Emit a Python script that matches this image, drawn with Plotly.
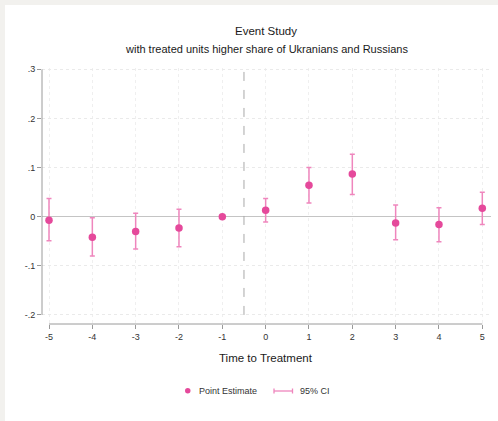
import plotly.graph_objects as go

# Event-study coefficients by period relative to treatment
periods = [-5, -4, -3, -2, -1, 0, 1, 2, 3, 4, 5]
estimate = [-0.007, -0.042, -0.030, -0.023, 0.0, 0.013, 0.064, 0.087, -0.013, -0.016, 0.017]
ci_low = [-0.049, -0.080, -0.066, -0.061, None, -0.011, 0.028, 0.045, -0.047, -0.051, -0.016]
ci_high = [0.037, -0.002, 0.007, 0.015, None, 0.037, 0.100, 0.127, 0.024, 0.018, 0.050]

x_ticks = [-5, -4, -3, -2, -1, 0, 1, 2, 3, 4, 5]
x_tick_labels = ["-5", "-4", "-3", "-2", "-1", "0", "1", "2", "3", "4", "5"]
y_ticks = [0.3, 0.2, 0.1, 0.0, -0.1, -0.2]
y_tick_labels = [".3", ".2", ".1", "0", "-.1", "-.2"]

PT_COLOR = "#e5499b"
CI_COLOR = "#ef86bd"
FONT = "Liberation Sans, Arial, sans-serif"

W, H = 498, 421
ML, MR, MT, MB = 42, 7, 68, 97
PW, PH = W - ML - MR, H - MT - MB


def px(xp):
    return (xp - ML) / PW


def py(yp):
    return (H - MB - yp) / PH


# split reference period (no interval) from estimated periods
ci_x, ci_y, err_up, err_dn = [], [], [], []
ref_x, ref_y = [], []
for p, e, lo, hi in zip(periods, estimate, ci_low, ci_high):
    if lo is None:
        ref_x.append(p)
        ref_y.append(e)
    else:
        ci_x.append(p)
        ci_y.append(e)
        err_up.append(hi - e)
        err_dn.append(e - lo)

fig = go.Figure()
fig.add_trace(go.Scatter(
    x=ci_x, y=ci_y, mode="markers",
    marker=dict(color=PT_COLOR, size=7.5),
    error_y=dict(type="data", array=err_up, arrayminus=err_dn, symmetric=False,
                 color=CI_COLOR, thickness=1.5, width=2.5),
    showlegend=False, hoverinfo="x+y",
))
fig.add_trace(go.Scatter(
    x=ref_x, y=ref_y, mode="markers",
    marker=dict(color=PT_COLOR, size=7.5),
    showlegend=False,
))

shapes = [
    # outer frame strips (left and top)
    dict(type="rect", xref="paper", yref="paper", x0=px(0), x1=px(5), y0=py(H), y1=py(0),
         fillcolor="#f2f1ee", line=dict(width=0), layer="below"),
    dict(type="rect", xref="paper", yref="paper", x0=px(0), x1=px(W), y0=py(5), y1=py(0),
         fillcolor="#f2f1ee", line=dict(width=0), layer="below"),
    # axis lines spanning the tick range only
    dict(type="line", xref="paper", yref="y", x0=0, x1=0, y0=-0.2, y1=0.3,
         line=dict(color="#9a9a9a", width=1)),
    dict(type="line", xref="x", yref="paper", x0=-5, x1=5, y0=0, y1=0,
         line=dict(color="#9a9a9a", width=1)),
    # treatment onset marker
    dict(type="line", xref="x", yref="y", x0=-0.5, x1=-0.5, y0=-0.2, y1=0.3,
         line=dict(color="#a8a8a8", width=1, dash="dash")),
    # legend symbols
    dict(type="circle", xref="paper", yref="paper",
         x0=px(185), x1=px(190.5), y0=py(393.5), y1=py(388),
         fillcolor=PT_COLOR, line=dict(width=0)),
    dict(type="line", xref="paper", yref="paper", x0=px(274), x1=px(292.5), y0=py(391), y1=py(391),
         line=dict(color=CI_COLOR, width=1.3)),
    dict(type="line", xref="paper", yref="paper", x0=px(274), x1=px(274), y0=py(388.5), y1=py(393.5),
         line=dict(color=CI_COLOR, width=1.3)),
    dict(type="line", xref="paper", yref="paper", x0=px(292.5), x1=px(292.5), y0=py(388.5), y1=py(393.5),
         line=dict(color=CI_COLOR, width=1.3)),
]

annotations = [
    dict(text="Event Study", x=px(265.5), y=py(31), xref="paper", yref="paper",
         showarrow=False, xanchor="center", yanchor="middle",
         font=dict(family=FONT, size=11.5, color="#1a1a1a")),
    dict(text="with treated units higher share of Ukranians and Russians",
         x=px(266), y=py(49), xref="paper", yref="paper",
         showarrow=False, xanchor="center", yanchor="middle",
         font=dict(family=FONT, size=11, color="#1a1a1a")),
    dict(text="Time to Treatment", x=px(265.7), y=py(357.5), xref="paper", yref="paper",
         showarrow=False, xanchor="center", yanchor="middle",
         font=dict(family=FONT, size=11.5, color="#1a1a1a")),
    dict(text="Point Estimate", x=px(196.5), y=py(391), xref="paper", yref="paper",
         showarrow=False, xanchor="left", yanchor="middle",
         font=dict(family=FONT, size=9, color="#333")),
    dict(text="95% CI", x=px(297.5), y=py(391), xref="paper", yref="paper",
         showarrow=False, xanchor="left", yanchor="middle",
         font=dict(family=FONT, size=9, color="#333")),
]

# pixel scale: 43.33 px per period, 491.2 px per unit of effect
x_scale = 43.33
x0_px = 49.0 - (-5) * x_scale
y_scale = 491.2
y0_px = 216.7

fig.update_layout(
    width=W, height=H,
    margin=dict(l=ML, r=MR, t=MT, b=MB, pad=0),
    paper_bgcolor="white", plot_bgcolor="white",
    font=dict(family=FONT, color="#333"),
    shapes=shapes, annotations=annotations,
    showlegend=False,
    xaxis=dict(
        range=[(ML - x0_px) / x_scale, (W - MR - x0_px) / x_scale],
        tickmode="array", tickvals=x_ticks, ticktext=x_tick_labels,
        ticks="outside", ticklen=4, tickcolor="#9a9a9a", tickwidth=1,
        tickfont=dict(size=9, color="#333"),
        showgrid=True, gridcolor="#efefef", griddash="dot", gridwidth=1,
        zeroline=False, showline=False,
    ),
    yaxis=dict(
        range=[(y0_px - (H - MB)) / y_scale, (y0_px - MT) / y_scale],
        tickmode="array", tickvals=y_ticks, ticktext=y_tick_labels,
        ticks="outside", ticklen=4, tickcolor="#9a9a9a", tickwidth=1,
        tickfont=dict(size=9, color="#333"),
        showgrid=True, gridcolor="#eaeaea", griddash="dot", gridwidth=1,
        zeroline=True, zerolinecolor="#c4c4c4", zerolinewidth=1.2,
        showline=False,
    ),
)

# pin the figure to the page corner and suppress page scrolling
page_css = (
    "document.body.style.margin='0';"
    "document.body.style.overflow='hidden';"
    "document.documentElement.style.overflow='hidden';"
)
fig.write_html("out.html", post_script=page_css)
